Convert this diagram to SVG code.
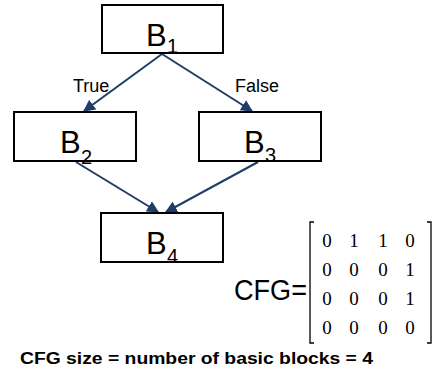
<svg xmlns="http://www.w3.org/2000/svg" width="433" height="373" viewBox="0 0 433 373">
<style>
.box{fill:#fff;stroke:#000;stroke-width:2}
.lbl{font-family:"Liberation Sans",Arial,sans-serif;fill:#000}
.big{font-size:31px}
.sub{font-size:20px}
.edge{stroke:#1f3d66;stroke-width:2;fill:none}
.m{font-family:"Liberation Serif","Times New Roman",serif;font-size:19px;text-anchor:middle}
</style>
<defs>
<marker id="ah" viewBox="0 0 10 10" refX="9" refY="5" markerWidth="6" markerHeight="6" orient="auto" markerUnits="strokeWidth">
<path d="M0,0 L10,5 L0,10 z" fill="#1f3d66"/>
</marker>
</defs>
<rect width="433" height="373" fill="#fff"/>
<g id="edges">
<line class="edge" x1="162" y1="54" x2="84" y2="111" marker-end="url(#ah)"/>
<line class="edge" x1="162" y1="54" x2="252" y2="111" marker-end="url(#ah)"/>
<line class="edge" x1="76" y1="162" x2="158" y2="212" marker-end="url(#ah)"/>
<line class="edge" x1="258" y1="162" x2="166" y2="212" marker-end="url(#ah)"/>
<text class="lbl" x="73" y="92" font-size="18">True</text>
<text class="lbl" x="235" y="92" font-size="18">False</text>
</g>
<g id="B1">
<rect class="box" x="102" y="5" width="121" height="48"/>
<text class="lbl big" x="146" y="46">B</text><text class="lbl sub" x="167" y="53">1</text>
</g>
<g id="B2">
<rect class="box" x="14" y="112" width="122" height="49"/>
<text class="lbl big" x="60" y="153">B</text><text class="lbl sub" x="81" y="164">2</text>
</g>
<g id="B3">
<rect class="box" x="199" y="112" width="122" height="49"/>
<text class="lbl big" x="244" y="153">B</text><text class="lbl sub" x="265" y="162">3</text>
</g>
<g id="B4">
<rect class="box" x="101" y="213" width="122" height="49"/>
<text class="lbl big" x="146" y="254">B</text><text class="lbl sub" x="167" y="263">4</text>
</g>
<g id="matrix">
<text class="lbl" x="234" y="300" font-size="29" textLength="73" lengthAdjust="spacingAndGlyphs">CFG=</text>
<path d="M314,222 H310 V343 H314 M427,222 H431 V343 H427" fill="none" stroke="#000" stroke-width="1.3"/>
<g class="m">
<text x="327" y="247">0</text><text x="354" y="247">1</text><text x="383" y="247">1</text><text x="410" y="247">0</text>
<text x="327" y="276">0</text><text x="354" y="276">0</text><text x="383" y="276">0</text><text x="410" y="276">1</text>
<text x="327" y="305">0</text><text x="354" y="305">0</text><text x="383" y="305">0</text><text x="410" y="305">1</text>
<text x="327" y="334">0</text><text x="354" y="334">0</text><text x="383" y="334">0</text><text x="410" y="334">0</text>
</g>
</g>
<text class="lbl" x="20" y="364" font-size="16" font-weight="bold" textLength="353" lengthAdjust="spacingAndGlyphs">CFG size = number of basic blocks = 4</text>
</svg>
